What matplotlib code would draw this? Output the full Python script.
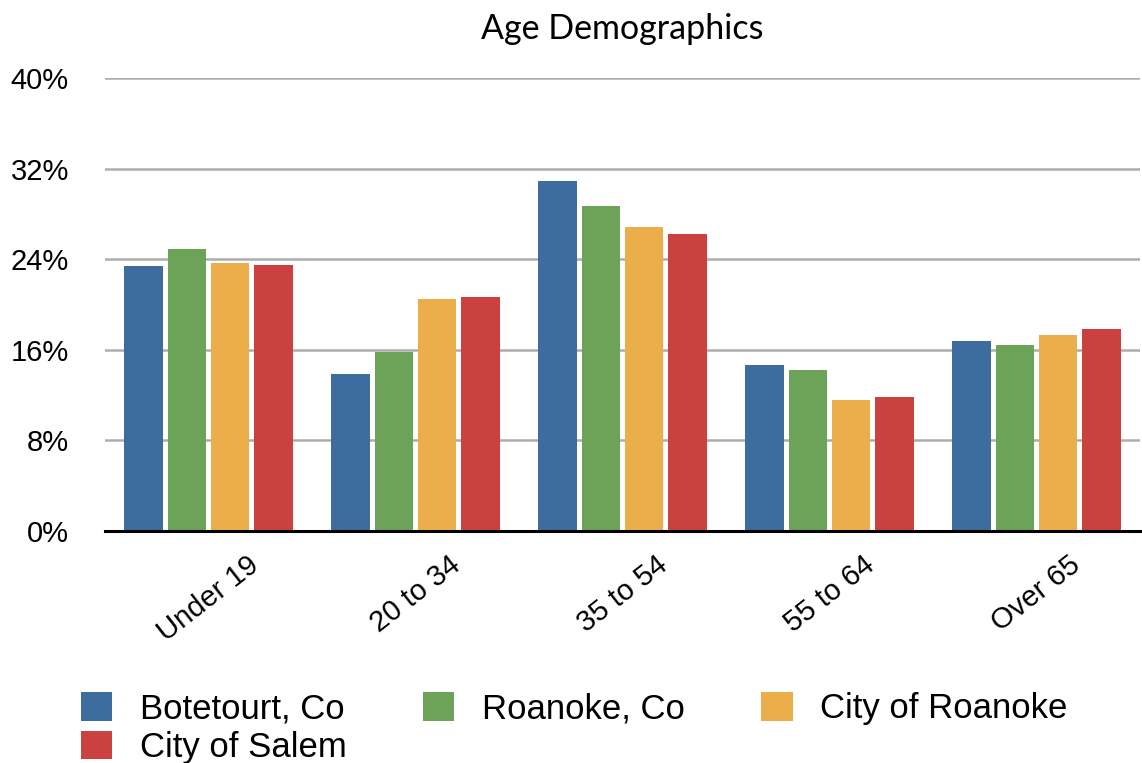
import matplotlib
matplotlib.use("Agg")
import numpy as np
from matplotlib import pyplot as plt

# data (percent)
age_groups = ['Under 19', '20 to 34', '35 to 54', '55 to 64', 'Over 65']
series_names = ['Botetourt, Co', 'Roanoke, Co', 'City of Roanoke', 'City of Salem']
botetourt = [23.4, 13.9, 30.9, 14.7, 16.8]
roanoke_co = [24.9, 15.8, 28.7, 14.2, 16.4]
city_roanoke = [23.7, 20.5, 26.8, 11.6, 17.3]
city_salem = [23.5, 20.7, 26.2, 11.8, 17.8]
y_ticks = [0, 8, 16, 24, 32, 40]

colors = ['#3D6C9E', '#6DA358', '#ECAE4B', '#CB413F']

plt.rcParams['font.family'] = ['Liberation Sans', 'DejaVu Sans']

fig = plt.figure(figsize=(11.42, 7.63), dpi=100)
ax = fig.add_axes([105 / 1142, 1 - 531 / 763, 1035 / 1142, 453 / 763])

x = np.arange(len(age_groups))
bar_w = 0.188
step = 0.208
handles = []
for i, (vals, name, color) in enumerate(zip(
        [botetourt, roanoke_co, city_roanoke, city_salem], series_names, colors)):
    offset = (i - 1.5) * step
    b = ax.bar(x + offset, vals, width=bar_w, color=color, label=name, zorder=3)
    handles.append(b)

ax.set_xlim(-0.5, len(age_groups) - 0.5)
ax.set_ylim(0, 40)
ax.set_yticks(y_ticks)
ax.set_yticklabels([f'{t}%' for t in y_ticks])
ax.yaxis.grid(True, color='#ADADAD', linewidth=1.8, zorder=0)
ax.set_axisbelow(True)
for s in ['left', 'right', 'top']:
    ax.spines[s].set_visible(False)
ax.spines['bottom'].set_color('black')
ax.spines['bottom'].set_linewidth(2.2)
ax.spines['bottom'].set_zorder(4)
ax.tick_params(axis='y', length=0, pad=26, labelsize=21)
ax.tick_params(axis='x', length=0, pad=14, labelsize=21)
ax.set_xticks(x)
ax.set_xticklabels(age_groups, rotation=38, ha='center', va='top')

fig.text(622 / 1142, 1 - 29 / 763, 'Age Demographics', family='Lato',
         fontsize=24.5, ha='center', va='center')

# reorder so the legend fills row by row
order = [0, 3, 1, 2]
fig.legend([handles[i] for i in order], [series_names[i] for i in order],
           loc='upper left', bbox_to_anchor=(81 / 1142, 1 - 692 / 763),
           ncol=3, frameon=False, fontsize=25, handlelength=0.9,
           handleheight=0.9, handletextpad=0.8, columnspacing=2.2,
           labelspacing=0.15, borderpad=0, borderaxespad=0)

fig.savefig('out.png', dpi=100)
